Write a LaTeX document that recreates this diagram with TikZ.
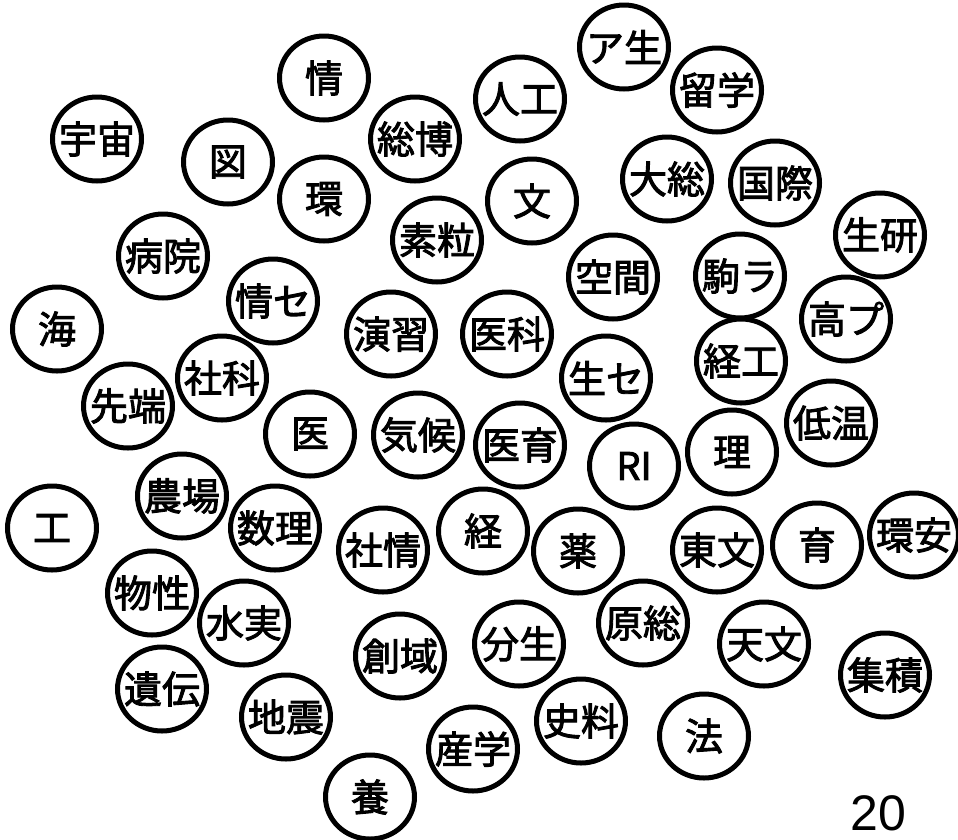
\documentclass[tikz,border=0pt]{standalone}
\usepackage{fontspec}
\newfontfamily\cjk[FakeBold=2.4]{Noto Sans CJK JP}
\setmainfont{Liberation Sans}
\usetikzlibrary{shapes.geometric}
\newcommand\bt[1]{\makebox[0pt]{#1}}
\tikzset{
  bub/.style={ellipse, draw=black, line width=5pt, minimum width=89pt, minimum height=84pt, inner sep=0pt, font=\cjk\fontsize{38pt}{38pt}\selectfont},
  num/.style={font=\fontsize{50pt}{50pt}\selectfont, inner sep=0pt}
}
\begin{document}
\begin{tikzpicture}[x=1pt,y=-1pt]
\useasboundingbox (0,0) rectangle (958,839);
\node[bub] (jo) at (324,78) {\bt{情}};
\node[bub] (uchu) at (97,139) {\bt{宇宙}};
\node[bub] (zu) at (228,162) {\bt{図}};
\node[bub] (sohaku) at (415,139) {\bt{総博}};
\node[bub] (kan) at (324,199) {\bt{環}};
\node[bub] (soryu) at (437,240) {\bt{素粒}};
\node[bub] (byoin) at (163,256) {\bt{病院}};
\node[bub] (asei) at (624,47) {\bt{ア生}};
\node[bub] (jinko) at (520,99) {\bt{人工}};
\node[bub] (ryugaku) at (717,90) {\bt{留学}};
\node[bub] (bun) at (532,201) {\bt{文}};
\node[bub] (daiso) at (667,179) {\bt{大総}};
\node[bub] (kokusai) at (775,183) {\bt{国際}};
\node[bub] (seiken) at (880,235) {\bt{生研}};
\node[bub] (kukan) at (613,277) {\bt{空間}};
\node[bub] (koma) at (740,276) {\bt{駒ラ}};
\node[bub] (jose) at (273,301) {\bt{情セ}};
\node[bub] (umi) at (57,329) {\bt{海}};
\node[bub] (enshu) at (391,334) {\bt{演習}};
\node[bub] (ika) at (507,334) {\bt{医科}};
\node[bub] (shaka) at (222,378) {\bt{社科}};
\node[bub] (sentan) at (128,406) {\bt{先端}};
\node[bub] (i) at (310,434) {\bt{医}};
\node[bub] (kiko) at (418,435) {\bt{気候}};
\node[bub] (seise) at (606,378) {\bt{生セ}};
\node[bub] (kopu) at (846,319) {\bt{高プ}};
\node[bub] (keiko) at (741,361) {\bt{経工}};
\node[bub] (iiku) at (520,445) {\bt{医育}};
\node[bub] (ri) at (634,466) {\bt{RI}};
\node[bub] (rig) at (732,452) {\bt{理}};
\node[bub] (teion) at (831,423) {\bt{低温}};
\node[bub] (nojo) at (182,496) {\bt{農場}};
\node[bub] (ko) at (52,528) {\bt{工}};
\node[bub] (suri) at (275,528) {\bt{数理}};
\node[bub] (shajo) at (383,550) {\bt{社情}};
\node[bub] (kei) at (483,531) {\bt{経}};
\node[bub] (yaku) at (578,551) {\bt{薬}};
\node[bub] (tobun) at (717,550) {\bt{東文}};
\node[bub] (iku) at (817,545) {\bt{育}};
\node[bub] (kan2) at (914,535) {\bt{環安}};
\node[bub] (bussei) at (152,593) {\bt{物性}};
\node[bub] (suijitsu) at (244,623) {\bt{水実}};
\node[bub] (iden) at (162,689) {\bt{遺伝}};
\node[bub] (jishin) at (286,717) {\bt{地震}};
\node[bub] (soiki) at (400,656) {\bt{創域}};
\node[bub] (yo) at (370,797) {\bt{養}};
\node[bub] (sangaku) at (473,749) {\bt{産学}};
\node[bub] (bunsei) at (519,644) {\bt{分生}};
\node[bub] (genso) at (643,623) {\bt{原総}};
\node[bub] (tenmon) at (764,644) {\bt{天文}};
\node[bub] (shuseki) at (885,675) {\bt{集積}};
\node[bub] (shiryo) at (581,721) {\bt{史料}};
\node[bub] (ho) at (704,736) {\bt{法}};
\node[num] (lbl) at (878,813) {20};
\end{tikzpicture}
\end{document}
